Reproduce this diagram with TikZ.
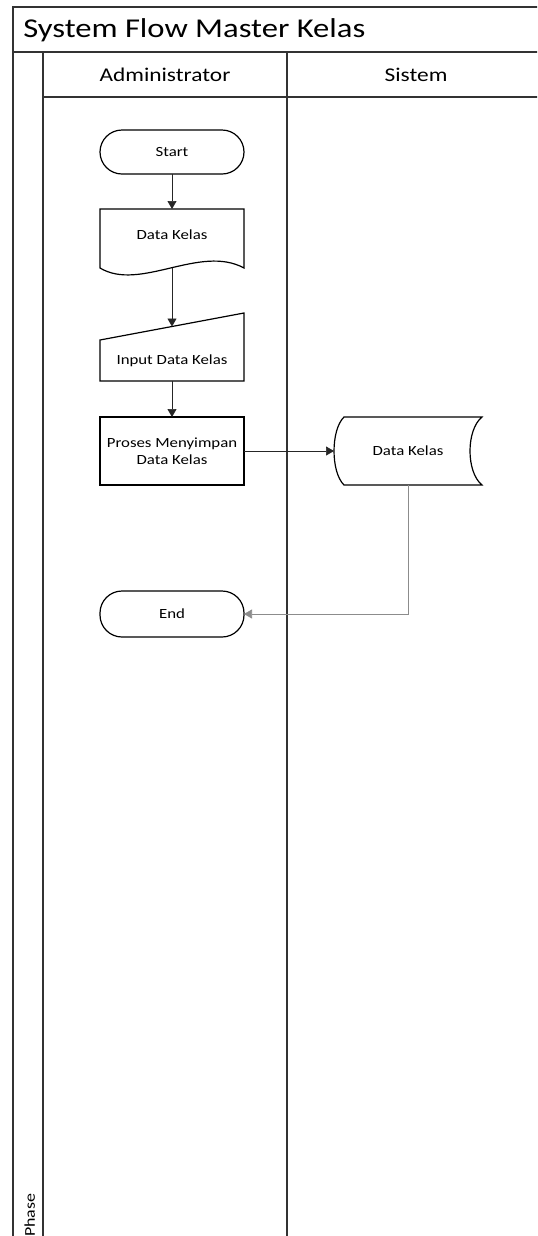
\documentclass[tikz,border=0pt]{standalone}
\usepackage{fontspec}
\setmainfont{Carlito}[FakeStretch=1.2]
\usetikzlibrary{arrows.meta}
\begin{document}
\begin{tikzpicture}[x=0.75pt,y=-0.75pt,
    lane/.style={line width=1pt,draw=black!80},
    shp/.style={line width=0.9pt},
    box/.style={shp,draw,minimum width=108pt,outer sep=0pt,align=center,font=\fontsize{10.5}{12.5}\selectfont},
    ghost/.style={box,draw=none},
    term/.style={box,rounded corners=16.5pt,minimum height=33pt},
    flow/.style={line width=0.5pt,draw=black!85,-{Triangle[length=6pt,width=6.75pt]}}]
\useasboundingbox (0,0) rectangle (537,1236);
\clip (0,0) rectangle (537,1236);
\foreach \x in {13,43,287} \draw[lane] (\x,1240) -- (\x,52);
\draw[lane] (13,52) -- (13,7) -- (545,7);
\draw[lane] (13,52) -- (545,52);
\draw[lane] (43,97) -- (545,97);
\node[anchor=west,inner sep=0pt,font=\fontsize{20.4}{24}\selectfont] (title) at (23,30) {System Flow Master Kelas};
\node[font=\fontsize{14.6}{17}\selectfont] (admin) at (165,74.5) {Administrator};
\node[font=\fontsize{14.6}{17}\selectfont] (sistem) at (416,74.5) {Sistem};
\node[rotate=90,anchor=base west,inner sep=0pt,font=\fontsize{11.2}{13}\selectfont] (phase) at (35,1237) {Phase};

\node[term] (start) at (172,152) {Start};
\node[ghost,minimum height=39pt] (doc) at (172,235) {Data Kelas};
\draw[shp] (doc.north west) -- (doc.north east) -- (doc.south east) -- ++(0,7) .. controls +(-44,-24) and +(40,24) .. ++(-144,0) -- cycle;
\coordinate (docbot) at (172,268);
\node[ghost,minimum height=30.75pt] (input) at (172,360.5) {Input Data Kelas};
\draw[shp] (input.south west) -- (input.north west) -- ++(144,-27) -- (input.south east) -- cycle;
\coordinate (inputtop) at (172,326.5);
\node[box,minimum height=51pt] (proses) at (172,451) {Proses Menyimpan\\Data Kelas};
\node[ghost,minimum width=111pt,minimum height=51pt] (store) at (408,451) {Data Kelas};
\draw[shp] ([xshift=7.5pt]store.north west) -- (store.north east) .. controls +(-16,13) and +(-16,-13) .. (store.south east) -- ([xshift=7.5pt]store.south west) .. controls +(-13.3,-13) and +(-13.3,13) .. ([xshift=7.5pt]store.north west) -- cycle;
\node[term,minimum height=34.5pt] (end) at (172,614) {End};

\draw[flow] (start) -- (doc);
\draw[flow] (docbot) -- (inputtop);
\draw[flow] (input) -- (proses);
\draw[flow] (proses) -- (store);
\draw[flow,draw=black!45] (store.south) |- (end.east);
\end{tikzpicture}
\end{document}
